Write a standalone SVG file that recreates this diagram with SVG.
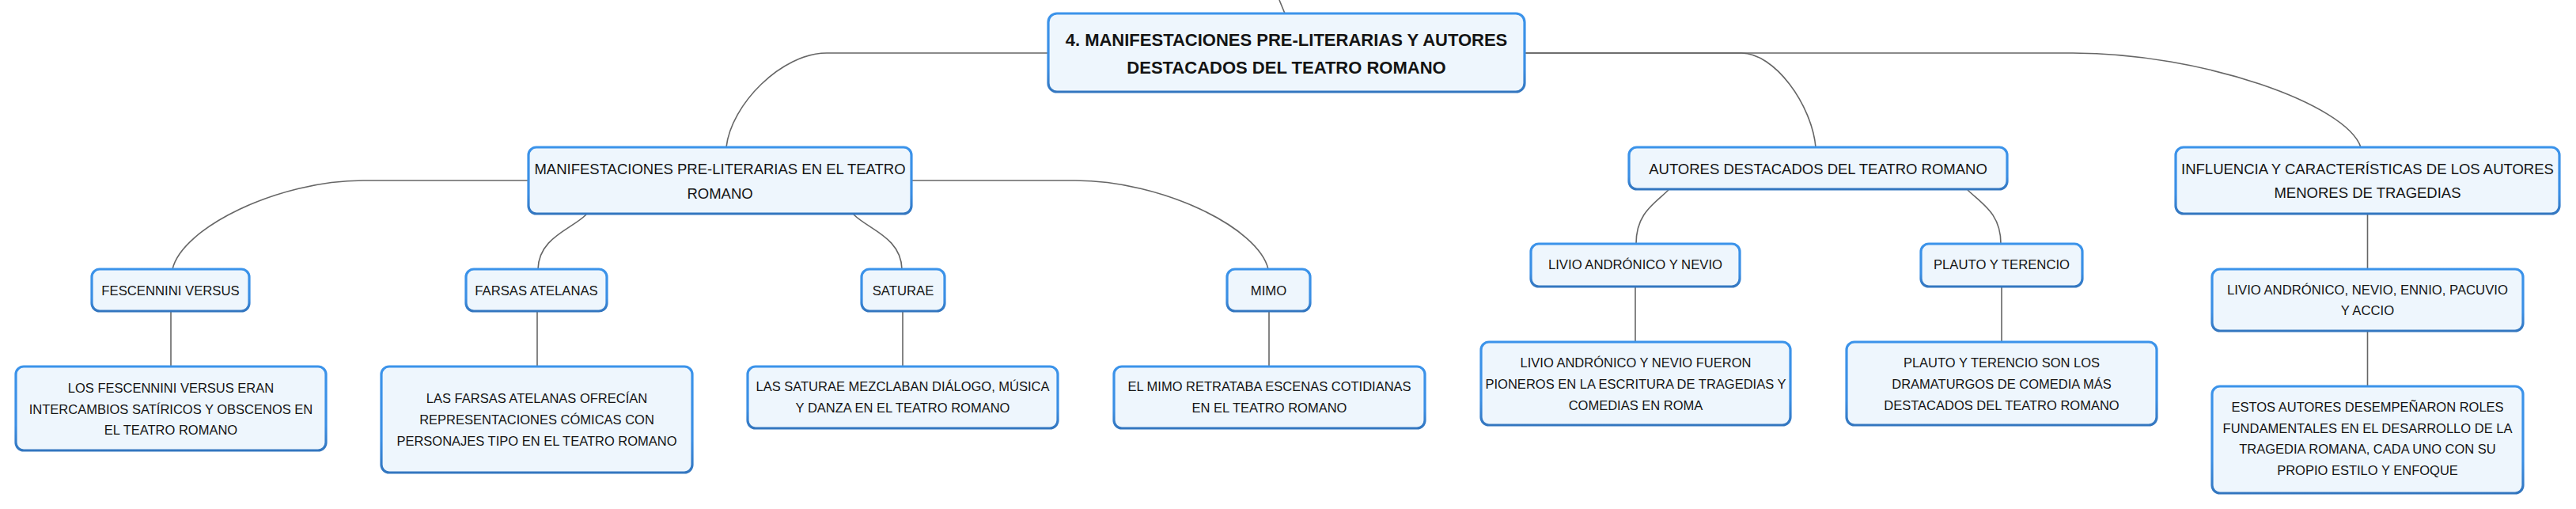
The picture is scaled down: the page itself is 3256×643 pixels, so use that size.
<svg xmlns="http://www.w3.org/2000/svg" width="3256" height="643" viewBox="0 0 3256 643">
<defs>
<linearGradient id="bd" x1="0" y1="0" x2="0" y2="1">
<stop offset="0" stop-color="#3b93ea"/>
<stop offset="0.7" stop-color="#3a8ee4"/>
<stop offset="1" stop-color="#3376bf"/>
</linearGradient>
</defs>
<style>
.box{fill:#eef6fd;stroke:url(#bd);stroke-width:3.2}
.t{font-family:"Liberation Sans",Arial,sans-serif;fill:#141414;text-anchor:middle}
.t0{font-size:22px;font-weight:bold}
.t1{font-size:18.5px}
.t2{font-size:16.7px}
.t3{font-size:16.5px}
.c{fill:none;stroke:#666;stroke-width:1.6}
</style>
<rect width="3256" height="643" fill="#ffffff"/>
<g id="connectors">
<path class="c" d="M1617,0 L1624,17"/>
<path class="c" d="M1325,67 H1045 C988,67 924,132 918,186"/>
<path class="c" d="M1927,67 H2201 C2243,67 2290,132 2295,186"/>
<path class="c" d="M1927,67 H2620 C2784,67 2966,132 2984,186"/>
<path class="c" d="M668,228 H459 C351,228 230,288 218,340"/>
<path class="c" d="M741,271 C722,290 681,300 680,340"/>
<path class="c" d="M1079,271 C1098,290 1139,300 1140,340"/>
<path class="c" d="M1152,228 H1359 C1469,228 1591,288 1603,340"/>
<path class="c" d="M2109,240 C2090,258 2068,270 2068,308"/>
<path class="c" d="M2487,240 C2506,258 2529,270 2529,308"/>
<path class="c" d="M216,393 V463"/>
<path class="c" d="M679,393 V463"/>
<path class="c" d="M1141,393 V463"/>
<path class="c" d="M1604,393 V463"/>
<path class="c" d="M2067,362 V432"/>
<path class="c" d="M2530,362 V432"/>
<path class="c" d="M2992.5,270 V340"/>
<path class="c" d="M2992.5,418 V488"/>
</g>
<g id="root">
<rect class="box" x="1325" y="17" width="602" height="99" rx="11"/>
<text class="t t0" x="1626" y="58">4. MANIFESTACIONES PRE-LITERARIAS Y AUTORES</text>
<text class="t t0" x="1626" y="93">DESTACADOS DEL TEATRO ROMANO</text>
</g>
<g id="n-manifestaciones">
<rect class="box" x="668" y="186" width="484" height="84" rx="10"/>
<text class="t t1" x="910" y="219.6">MANIFESTACIONES PRE-LITERARIAS EN EL TEATRO</text>
<text class="t t1" x="910" y="250.6">ROMANO</text>
</g>
<g id="n-autores">
<rect class="box" x="2059" y="186" width="478" height="53" rx="10"/>
<text class="t t1" x="2298" y="219.6">AUTORES DESTACADOS DEL TEATRO ROMANO</text>
</g>
<g id="n-influencia">
<rect class="box" x="2750" y="186" width="485" height="84" rx="10"/>
<text class="t t1" x="2992.5" y="219.6">INFLUENCIA Y CARACTERÍSTICAS DE LOS AUTORES</text>
<text class="t t1" x="2992.5" y="249.6">MENORES DE TRAGEDIAS</text>
</g>
<g id="n-fescennini">
<rect class="box" x="116" y="340" width="199" height="53" rx="10"/>
<text class="t t2" x="215.5" y="373">FESCENNINI VERSUS</text>
</g>
<g id="n-farsas">
<rect class="box" x="589" y="340" width="178" height="53" rx="10"/>
<text class="t t2" x="678" y="373">FARSAS ATELANAS</text>
</g>
<g id="n-saturae">
<rect class="box" x="1089" y="340" width="105" height="53" rx="10"/>
<text class="t t2" x="1141.5" y="373">SATURAE</text>
</g>
<g id="n-mimo">
<rect class="box" x="1551" y="340" width="105" height="53" rx="10"/>
<text class="t t2" x="1603.5" y="373">MIMO</text>
</g>
<g id="n-livio">
<rect class="box" x="1935" y="308" width="264" height="54" rx="10"/>
<text class="t t2" x="2067" y="340.4">LIVIO ANDRÓNICO Y NEVIO</text>
</g>
<g id="n-plauto">
<rect class="box" x="2428" y="308" width="204" height="54" rx="10"/>
<text class="t t2" x="2530" y="340.4">PLAUTO Y TERENCIO</text>
</g>
<g id="n-menores">
<rect class="box" x="2796" y="340" width="393" height="78" rx="10"/>
<text class="t t2" x="2992.5" y="372">LIVIO ANDRÓNICO, NEVIO, ENNIO, PACUVIO</text>
<text class="t t2" x="2992.5" y="398">Y ACCIO</text>
</g>
<g id="d-fescennini">
<rect class="box" x="20" y="463" width="392" height="106" rx="10"/>
<text class="t t3" x="216" y="496">LOS FESCENNINI VERSUS ERAN</text>
<text class="t t3" x="216" y="523">INTERCAMBIOS SATÍRICOS Y OBSCENOS EN</text>
<text class="t t3" x="216" y="549">EL TEATRO ROMANO</text>
</g>
<g id="d-farsas">
<rect class="box" x="482" y="463" width="393" height="134" rx="10"/>
<text class="t t3" x="678.5" y="509">LAS FARSAS ATELANAS OFRECÍAN</text>
<text class="t t3" x="678.5" y="536">REPRESENTACIONES CÓMICAS CON</text>
<text class="t t3" x="678.5" y="563">PERSONAJES TIPO EN EL TEATRO ROMANO</text>
</g>
<g id="d-saturae">
<rect class="box" x="945" y="463" width="392" height="78" rx="10"/>
<text class="t t3" x="1141" y="494">LAS SATURAE MEZCLABAN DIÁLOGO, MÚSICA</text>
<text class="t t3" x="1141" y="521">Y DANZA EN EL TEATRO ROMANO</text>
</g>
<g id="d-mimo">
<rect class="box" x="1408" y="463" width="393" height="78" rx="10"/>
<text class="t t3" x="1604.5" y="494">EL MIMO RETRATABA ESCENAS COTIDIANAS</text>
<text class="t t3" x="1604.5" y="521">EN EL TEATRO ROMANO</text>
</g>
<g id="d-livio">
<rect class="box" x="1872" y="432" width="391" height="105" rx="10"/>
<text class="t t3" x="2067.5" y="464">LIVIO ANDRÓNICO Y NEVIO FUERON</text>
<text class="t t3" x="2067.5" y="491">PIONEROS EN LA ESCRITURA DE TRAGEDIAS Y</text>
<text class="t t3" x="2067.5" y="518">COMEDIAS EN ROMA</text>
</g>
<g id="d-plauto">
<rect class="box" x="2334" y="432" width="392" height="105" rx="10"/>
<text class="t t3" x="2530" y="464">PLAUTO Y TERENCIO SON LOS</text>
<text class="t t3" x="2530" y="491">DRAMATURGOS DE COMEDIA MÁS</text>
<text class="t t3" x="2530" y="518">DESTACADOS DEL TEATRO ROMANO</text>
</g>
<g id="d-estos">
<rect class="box" x="2796" y="488" width="393" height="135" rx="10"/>
<text class="t t3" x="2992.5" y="520">ESTOS AUTORES DESEMPEÑARON ROLES</text>
<text class="t t3" x="2992.5" y="547">FUNDAMENTALES EN EL DESARROLLO DE LA</text>
<text class="t t3" x="2992.5" y="573">TRAGEDIA ROMANA, CADA UNO CON SU</text>
<text class="t t3" x="2992.5" y="600">PROPIO ESTILO Y ENFOQUE</text>
</g>
</svg>
